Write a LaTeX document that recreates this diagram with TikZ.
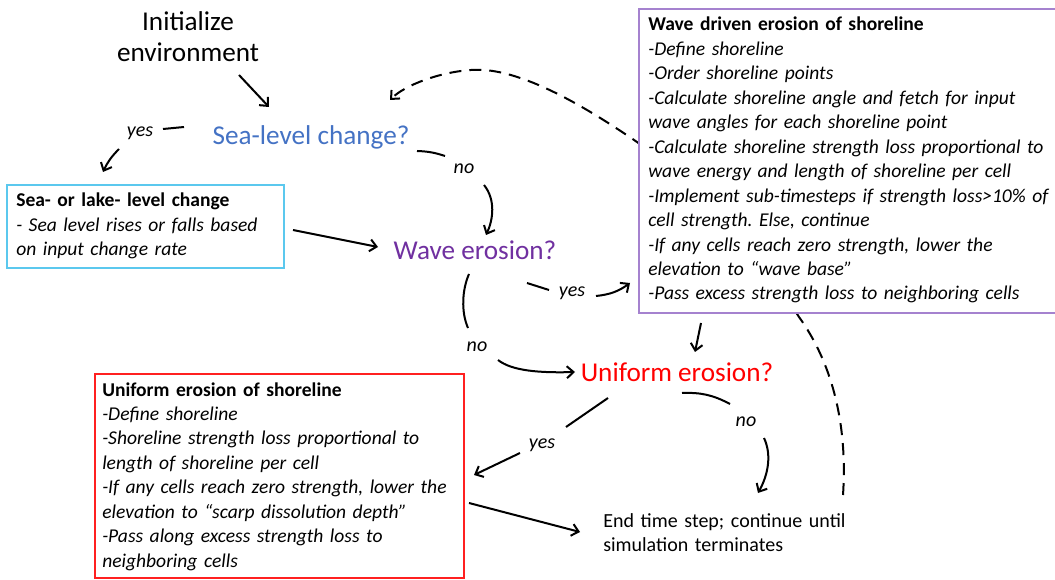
\documentclass[tikz,border=0pt]{standalone}
\usepackage{fontspec}
\setmainfont{Carlito}
\usetikzlibrary{arrows.meta}
\frenchspacing
\definecolor{seablue}{HTML}{4472C4}
\definecolor{wavepurple}{HTML}{7030A0}
\definecolor{unired}{HTML}{FF0000}
\definecolor{cyanborder}{HTML}{5BC8EE}
\definecolor{purpleborder}{HTML}{A582CF}
\definecolor{redborder}{HTML}{FF2020}
\tikzset{
  conn/.style={line width=1.5pt, black},
  arr/.style={conn, -{Straight Barb[length=5pt,width=9pt,line width=1.5pt]}},
  dashconn/.style={arr, dash pattern=on 9pt off 6pt},
  question/.style={font=\fontsize{20.4}{24}\selectfont, inner sep=0pt},
  lbl/.style={font=\fontsize{15}{17}\selectfont\itshape, inner sep=0pt},
  boxtext/.style={font=\fontsize{14.65}{18.34}\selectfont\frenchspacing, inner sep=0pt, align=left, anchor=base west, text width=360pt},
  stepframe/.style={line width=0.9pt, fill=white},
}
\begin{document}
\begin{tikzpicture}[x=0.75pt,y=-0.75pt]
\useasboundingbox (0,0) rectangle (1055,580);

% dashed feedback loop (behind purple box)
\coordinate (dstart) at (843,495);
\coordinate (dend) at (390,100);
\draw[dashconn] (dstart) .. controls (848,420) and (830,360) .. (799,317)
  .. controls (770,270) and (690,180) .. (637,142)
  .. controls (590,110) and (520,66) .. (471,70)
  .. controls (440,72) and (405,85) .. (dend);

% boxes
\draw[stepframe, draw=cyanborder] (7,185) rectangle (284,268);
\node[boxtext] (cyantext) at (16,207) {\textbf{Sea- or lake- level change}\\\textit{- Sea level rises or falls based}\\\textit{on input change rate}};

\draw[stepframe, draw=purpleborder] (1065,9) -- (639,9) -- (639,313) -- (1065,313);
\node[boxtext, text width=440pt] (wavetext) at (648,31) {\textbf{Wave driven erosion of shoreline}\\\itshape
-Define shoreline\\
-Order shoreline points\\
-Calculate shoreline angle and fetch for input\\
wave angles for each shoreline point\\
-Calculate shoreline strength loss proportional to\\
wave energy and length of shoreline per cell\\
-Implement sub-timesteps if strength loss>10\% of\\
cell strength. Else, continue\\
-If any cells reach zero strength, lower the\\
elevation to “wave base”\\
-Pass excess strength loss to neighboring cells};

\draw[stepframe, draw=redborder] (95,374) rectangle (464,578);
\node[boxtext] (unitext) at (102,396) {\textbf{Uniform erosion of shoreline}\\\itshape
-Define shoreline\\
-Shoreline strength loss proportional to\\
length of shoreline per cell\\
-If any cells reach zero strength, lower the\\
elevation to “scarp dissolution depth”\\
-Pass along excess strength loss to\\
neighboring cells};

% plain texts
\node[question, align=center, font=\fontsize{20.4}{23.25}\selectfont] (init) at (188,37) {Initialize\\environment};
\node[question, text=seablue] (sea) at (311,137) {Sea-level change?};
\node[question, text=wavepurple] (wave) at (475,250) {Wave erosion?};
\node[question, text=unired] (uni) at (677,372) {Uniform erosion?};
\node[boxtext, font=\fontsize{15}{18}\selectfont] (endstep) at (603,527) {End time step; continue until\\simulation terminates};

% labels
\node[lbl] (yes1) at (140,133) {yes};
\node[lbl] (no1) at (464,169) {no};
\node[lbl] (yes2) at (572,293) {yes};
\node[lbl] (no2) at (477,347) {no};
\node[lbl] (yes3) at (542,445) {yes};
\node[lbl] (no3) at (746,422) {no};

% connectors
\coordinate (i1) at (239,75); \coordinate (i2) at (269,107);
\draw[arr] (i1) -- (i2);

\coordinate (y1a) at (184,127); \coordinate (y1b) at (163,129);
\coordinate (y1c) at (119,149); \coordinate (y1d) at (103,172);
\draw[conn] (y1a) -- (y1b);
\draw[arr] (y1c) to[bend right=10] (y1d);

\coordinate (n1a) at (417,151); \coordinate (n1b) at (445,156);
\coordinate (n1c) at (484,185); \coordinate (n1d) at (486,235);
\draw[conn] (n1a) to[bend left=8] (n1b);
\draw[arr] (n1c) .. controls (496,200) and (493,220) .. (n1d);

\coordinate (c1) at (293,230); \coordinate (c2) at (378,247);
\draw[arr] (c1) -- (c2);

\coordinate (y2a) at (527,283); \coordinate (y2b) at (549,290);
\coordinate (y2c) at (596,296); \coordinate (y2d) at (630,283);
\draw[conn] (y2a) -- (y2b);
\draw[arr] (y2c) to[bend right=15] (y2d);

\coordinate (n2a) at (469,274); \coordinate (n2b) at (468,328);
\coordinate (n2c) at (498,360); \coordinate (n2d) at (575,372);
\draw[conn] (n2a) .. controls (462,290) and (461,312) .. (n2b);
\draw[arr] (n2c) .. controls (512,371) and (540,373) .. (n2d);

\coordinate (p1) at (701,323); \coordinate (p2) at (695,352);
\draw[arr] (p1) -- (p2);

\coordinate (y3a) at (608,398); \coordinate (y3b) at (566,427);
\coordinate (y3c) at (520,453); \coordinate (y3d) at (474,475);
\draw[conn] (y3a) -- (y3b);
\draw[arr] (y3c) -- (y3d);

\coordinate (n3a) at (682,393); \coordinate (n3b) at (730,404);
\coordinate (n3c) at (764,438); \coordinate (n3d) at (758,493);
\draw[conn] (n3a) to[bend left=15] (n3b);
\draw[arr] (n3c) .. controls (772,455) and (768,475) .. (n3d);

\coordinate (r1) at (469,503); \coordinate (r2) at (580,532);
\draw[arr] (r1) -- (r2);
\end{tikzpicture}
\end{document}
